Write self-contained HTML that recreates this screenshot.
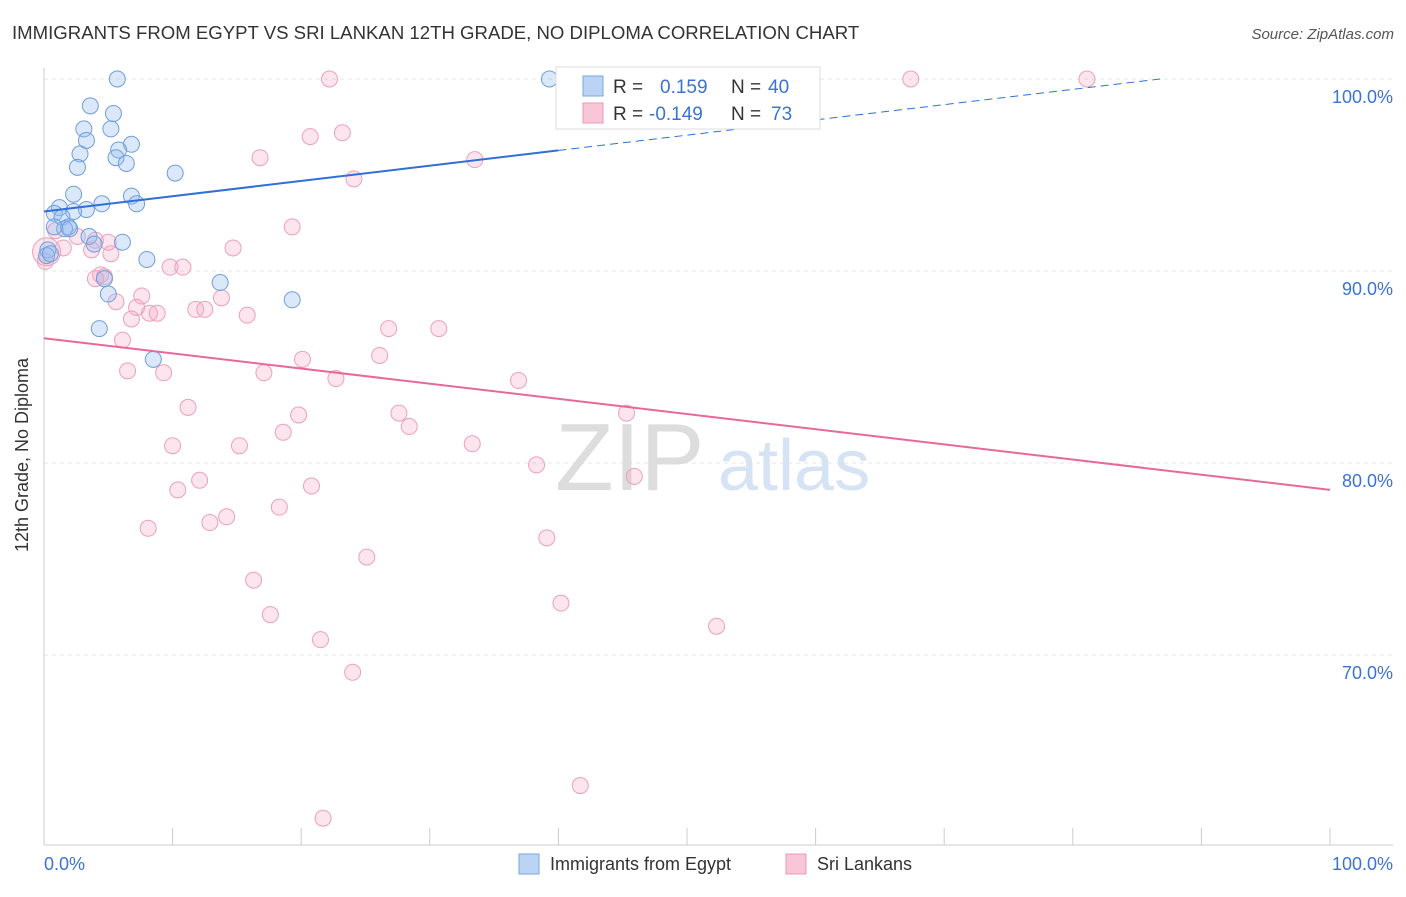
<!DOCTYPE html>
<html><head><meta charset="utf-8"><style>
body{margin:0;background:#fff;font-family:"Liberation Sans",sans-serif}
svg text{font-family:"Liberation Sans",sans-serif}
</style></head><body>
<svg id="chart" width="1406" height="892" xmlns="http://www.w3.org/2000/svg">
<text x="12" y="39" font-size="18.6" fill="#333">IMMIGRANTS FROM EGYPT VS SRI LANKAN 12TH GRADE, NO DIPLOMA CORRELATION CHART</text>
<text x="1394" y="39" font-size="15" fill="#555" font-style="italic" text-anchor="end">Source: ZipAtlas.com</text>
<g id="grid"></g>
<text x="555" y="490" font-size="96" fill="#ddd" font-family="Liberation Serif">ZIP</text>
<text x="718" y="490" font-size="72" fill="#d5e3f5">atlas</text>
<g id="marks"></g>
<text x="28" y="455" font-size="18" fill="#333" text-anchor="middle" transform="rotate(-90 28 455)">12th Grade, No Diploma</text>
<g>
<rect x="556" y="67" width="264" height="62" fill="#fff" stroke="#ddd"/>
<rect x="583" y="76" width="20" height="20" fill="#bcd4f4" stroke="#7aa6e2"/>
<text x="613" y="93" font-size="19" fill="#333">R =</text><text x="660" y="93" font-size="19" fill="#3b73d4">0.159</text>
<text x="731" y="93" font-size="19" fill="#333">N =</text><text x="768" y="93" font-size="19" fill="#3b73d4">40</text>
<rect x="583" y="103" width="20" height="20" fill="#f8c6d6" stroke="#ec98b4"/>
<text x="613" y="120" font-size="19" fill="#333">R =</text><text x="649" y="120" font-size="19" fill="#3b73d4">-0.149</text>
<text x="731" y="120" font-size="19" fill="#333">N =</text><text x="771" y="120" font-size="19" fill="#3b73d4">73</text>
</g>
<g>
<rect x="519" y="854" width="20" height="20" fill="#bcd4f4" stroke="#7aa6e2"/>
<text x="550" y="870" font-size="18" fill="#333">Immigrants from Egypt</text>
<rect x="786" y="854" width="20" height="20" fill="#f8c6d6" stroke="#ec98b4"/>
<text x="817" y="870" font-size="18" fill="#333">Sri Lankans</text>
</g>
<text x="44" y="870" font-size="18" fill="#3b73d4">0.0%</text>
<text x="1393" y="870" font-size="18" fill="#3b73d4" text-anchor="end">100.0%</text>
</svg>
<script>
const yTicks=[100,90,80,70];
const blueX=[5.7,39.3,3.6,5.4,3.1,5.2,3.3,6.8,5.8,2.8,5.6,6.4,2.6,10.2,2.3,6.8,4.5,7.2,1.2,3.3,2.3,0.8,1.4,1.9,1.6,2.0,0.8,3.5,3.9,6.1,0.3,0.2,8.0,4.7,13.7,5.0,19.3,4.3,8.5,0.5];
const blueY=[100,100,98.6,98.2,97.4,97.4,96.8,96.6,96.3,96.1,95.9,95.6,95.4,95.1,94.0,93.9,93.5,93.5,93.3,93.2,93.1,93.0,92.8,92.3,92.2,92.2,92.3,91.8,91.4,91.5,91.1,90.8,90.6,89.6,89.4,88.8,88.5,87.0,85.4,90.9];
const pinkX=[22.2,67.4,81.1,23.2,20.7,16.8,33.5,24.1,19.3,0.9,2.6,4.0,5.0,14.7,1.5,3.7,5.2,0.1,9.8,10.8,4.4,4.0,4.7,7.6,13.8,5.6,11.8,12.5,7.2,8.2,8.8,6.8,15.8,26.8,30.7,6.1,26.1,20.1,6.5,9.3,17.1,22.7,36.9,11.2,19.8,27.6,45.3,28.4,18.6,10.0,15.2,33.3,38.3,45.9,12.1,20.8,10.4,18.3,14.2,12.9,8.1,39.1,25.1,16.3,40.2,17.6,52.3,21.5,24.0,41.7,21.7,0.2];
const pinkY=[100,100,100,97.2,97.0,95.9,95.8,94.8,92.3,92.1,91.8,91.6,91.5,91.2,91.2,91.1,90.9,90.5,90.2,90.2,89.8,89.6,89.7,88.7,88.6,88.4,88.0,88.0,88.1,87.8,87.8,87.5,87.7,87.0,87.0,86.4,85.6,85.4,84.8,84.7,84.7,84.4,84.3,82.9,82.5,82.6,82.6,81.9,81.6,80.9,80.9,81.0,79.9,79.3,79.1,78.8,78.6,77.7,77.2,76.9,76.6,76.1,75.1,73.9,72.7,72.1,71.5,70.8,69.1,63.2,61.5,91.0];
const blueTrend=[93.1,0.0795];
const pinkTrend=[86.5,-0.079];
const X=v=>44+v*12.86, Y=v=>79+(100-v)*19.2;
const NS="http://www.w3.org/2000/svg";
const grid=document.getElementById('grid'), marks=document.getElementById('marks');
function mk(tag,attrs,parent){const e=document.createElementNS(NS,tag);for(const k in attrs)e.setAttribute(k,attrs[k]);parent.appendChild(e);return e;}
yTicks.forEach(t=>{
 const l=mk('line',{x1:44,x2:1393,y1:Y(t),y2:Y(t),stroke:'#e4e4e4','stroke-dasharray':'4,4'},grid);
 
 
 const tx=mk('text',{x:1393,y:Y(t)+24,'font-size':18,fill:'#3b73d4','text-anchor':'end'},grid);
 tx.textContent=t.toFixed(1)+'%';
 
 
});
const ax=mk('line',{x1:44,x2:1393,y1:845,y2:845,stroke:'#ccc'},grid);


const ay=mk('line',{x1:44,x2:44,y1:68,y2:845,stroke:'#ccc'},grid);


for(let i=1;i<=10;i++){const tk=mk('line',{x1:X(i*10),x2:X(i*10),y1:828,y2:845,stroke:'#ccc'},grid);
 
 }
pinkX.forEach((x,i)=>{const c=mk('circle',{cx:X(x),cy:Y(pinkY[i]),r:i==pinkX.length-1?14:8,fill:'rgba(244,170,196,0.3)',stroke:'#eca0bb','stroke-width':1},marks);
 
 });
blueX.forEach((x,i)=>{const c=mk('circle',{cx:X(x),cy:Y(blueY[i]),r:8,fill:'rgba(150,190,240,0.35)',stroke:'#6f9edc','stroke-width':1},marks);
 
 });
const bEnd=(100-blueTrend[0])/blueTrend[1];
const b1=mk('line',{x1:X(0),y1:Y(blueTrend[0]),x2:X(40),y2:Y(blueTrend[0]+40*blueTrend[1]),stroke:'#2f6fd6','stroke-width':2},marks);


const b2=mk('line',{x1:X(40),y1:Y(blueTrend[0]+40*blueTrend[1]),x2:X(bEnd),y2:Y(100),stroke:'#2f6fd6','stroke-width':1,'stroke-dasharray':'8,5'},marks);


const p1=mk('line',{x1:X(0),y1:Y(pinkTrend[0]),x2:X(100),y2:Y(pinkTrend[0]+100*pinkTrend[1]),stroke:'#e8689a','stroke-width':2},marks);


</script>
</body></html>
